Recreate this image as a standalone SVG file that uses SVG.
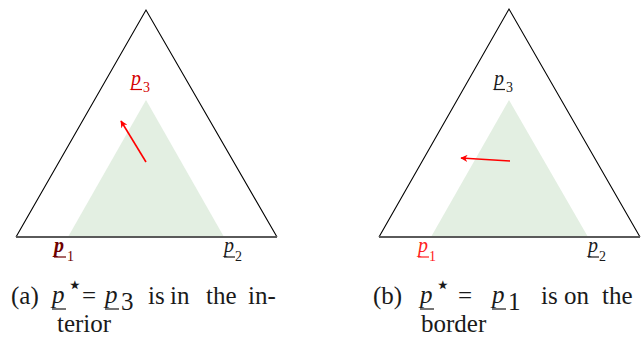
<svg xmlns="http://www.w3.org/2000/svg" width="641" height="341" viewBox="0 0 641 341">
<defs>
<marker id="ah" viewBox="0 0 10 10" refX="9" refY="5" markerWidth="4.5" markerHeight="4.5" orient="auto" markerUnits="strokeWidth">
<path d="M0,0 L10,5 L0,10 L3,5 Z" fill="#ff0000"/>
</marker>
</defs>
<style>
.outer{fill:none;stroke:#000;stroke-width:1.1;stroke-linejoin:miter}
.base{stroke:#5a5a5a;stroke-width:2}
.inner{fill:#e3efe2;stroke:none}
.arrow{stroke:#ff0000;stroke-width:1.6;fill:none;marker-end:url(#ah)}
text{font-family:'Liberation Serif','DejaVu Serif',serif}
.lbl{font-size:20px;font-style:italic}
.sub{font-size:14px;font-style:normal}
.cap{font-size:25px;fill:#1a1a1a}
.capi{font-style:italic}
.ul{stroke-width:1.2}
</style>
<g id="diagram-a">
<polygon class="inner" points="146,100 68,237 224,237"/>
<polyline class="outer" points="16,237 146,10 277,237"/>
<line class="base" x1="16" y1="237" x2="277" y2="237"/>
</g>
<g id="diagram-b">
<polygon class="inner" points="509,100 431,237 588,237"/>
<polyline class="outer" points="379,237 509,9 640,237"/>
<line class="base" x1="379" y1="237" x2="640" y2="237"/>
</g>
<g id="connectors">
<line class="arrow" x1="146" y1="162" x2="121" y2="121"/>
<line class="arrow" x1="510" y1="161" x2="461" y2="158"/>
</g>
<g id="label-a-p3" fill="#d40000">
<text class="lbl" x="131" y="85">p</text><text class="sub" x="143" y="92">3</text>
<line class="ul" x1="131" y1="89.5" x2="142" y2="89.5" stroke="#d40000"/>
</g>
<g id="label-a-p1" fill="#6e0000">
<text class="lbl" x="54" y="252" font-weight="bold">p</text><text class="sub" x="67" y="261">1</text>
<line class="ul" x1="54" y1="257" x2="66" y2="257" stroke="#6e0000" stroke-width="1.5"/>
</g>
<g id="label-a-p2" fill="#1a1a1a">
<text class="lbl" x="224" y="252">p</text><text class="sub" x="235" y="261">2</text>
<line class="ul" x1="224" y1="257" x2="235" y2="257" stroke="#1a1a1a"/>
</g>
<g id="label-b-p3" fill="#1a1a1a">
<text class="lbl" x="494" y="85">p</text><text class="sub" x="506" y="92">3</text>
<line class="ul" x1="494" y1="89.5" x2="505" y2="89.5" stroke="#1a1a1a"/>
</g>
<g id="label-b-p1" fill="#ff2020">
<text class="lbl" x="418" y="252">p</text><text class="sub" x="429" y="261">1</text>
<line class="ul" x1="418" y1="257" x2="429" y2="257" stroke="#ff2020"/>
</g>
<g id="label-b-p2" fill="#1a1a1a">
<text class="lbl" x="588" y="252">p</text><text class="sub" x="599" y="261">2</text>
<line class="ul" x1="588" y1="257" x2="599" y2="257" stroke="#1a1a1a"/>
</g>
<g id="caption-a">
<text class="cap" x="11" y="304">(a)</text>
<text class="cap capi" x="52" y="303">p</text>
<text class="cap" x="67" y="293" font-size="12">⋆</text>
<line x1="52" y1="309" x2="66" y2="309" stroke="#1a1a1a" stroke-width="1.2"/>
<text class="cap" x="82" y="304">=</text>
<text class="cap capi" x="105" y="303">p</text>
<text class="cap" x="121" y="310" font-size="17">3</text>
<line x1="105" y1="309" x2="119" y2="309" stroke="#1a1a1a" stroke-width="1.2"/>
<text class="cap" x="148" y="304">is</text>
<text class="cap" x="170" y="304">in</text>
<text class="cap" x="206" y="304">the</text>
<text class="cap" x="248" y="304">in-</text>
<text class="cap" x="57" y="332">terior</text>
</g>
<g id="caption-b">
<text class="cap" x="373" y="304">(b)</text>
<text class="cap capi" x="420" y="303">p</text>
<text class="cap" x="435" y="293" font-size="12">⋆</text>
<line x1="420" y1="309" x2="434" y2="309" stroke="#1a1a1a" stroke-width="1.2"/>
<text class="cap" x="458" y="304">=</text>
<text class="cap capi" x="492" y="303">p</text>
<text class="cap" x="508" y="310" font-size="17">1</text>
<line x1="492" y1="309" x2="506" y2="309" stroke="#1a1a1a" stroke-width="1.2"/>
<text class="cap" x="541" y="304">is</text>
<text class="cap" x="564" y="304">on</text>
<text class="cap" x="602" y="304">the</text>
<text class="cap" x="421" y="332">border</text>
</g>
</svg>
